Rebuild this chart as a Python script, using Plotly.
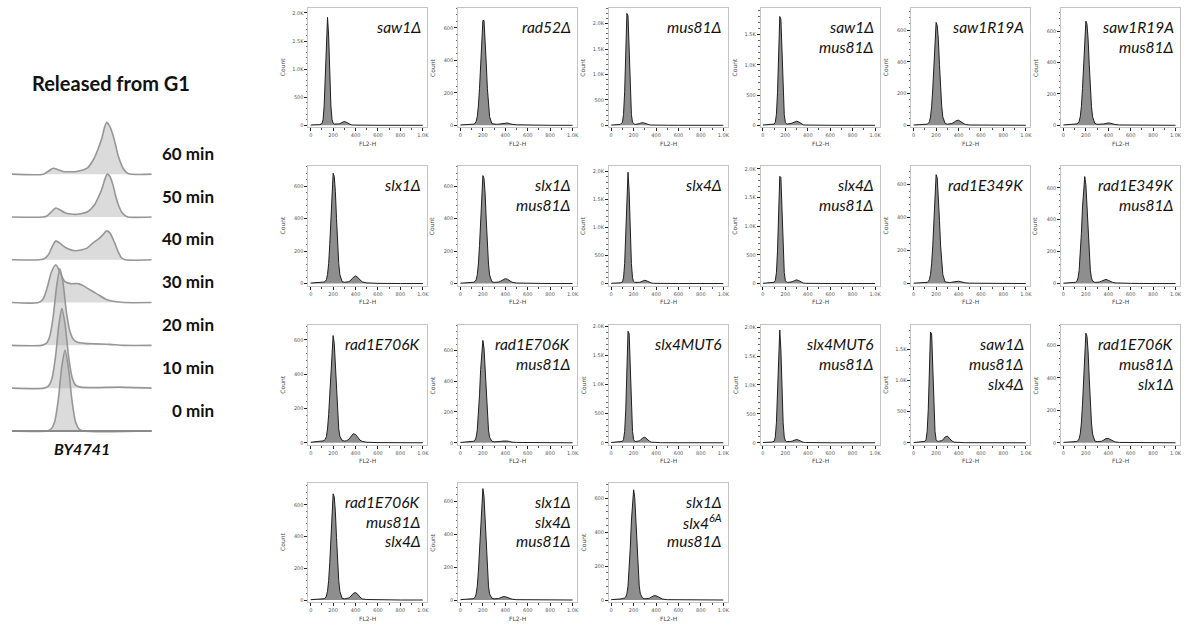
import plotly.graph_objects as go

# ---------------- data ----------------
# FL2-H positions at which histogram counts were read
FL2_GRID = [0, 40, 80, 100, 110, 120, 130, 140, 150, 160, 170, 180, 190, 200, 210, 220, 230, 240,
            250, 260, 280, 300, 320, 340, 360, 380, 400, 420, 440, 460, 500, 600, 800, 1000]

PANEL_LABELS = [
    ["saw1Δ"], ["rad52Δ"], ["mus81Δ"], ["saw1Δ", "mus81Δ"], ["saw1R19A"], ["saw1R19A", "mus81Δ"],
    ["slx1Δ"], ["slx1Δ", "mus81Δ"], ["slx4Δ"], ["slx4Δ", "mus81Δ"], ["rad1E349K"], ["rad1E349K", "mus81Δ"],
    ["rad1E706K"], ["rad1E706K", "mus81Δ"], ["slx4MUT6"], ["slx4MUT6", "mus81Δ"],
    ["saw1Δ", "mus81Δ", "slx4Δ"], ["rad1E706K", "mus81Δ", "slx1Δ"],
    ["rad1E706K", "mus81Δ", "slx4Δ"], ["slx1Δ", "slx4Δ", "mus81Δ"], ["slx1Δ", "slx4<sup>6A</sup>", "mus81Δ"],
]

COUNTS_SAW1 = [5,8,12,30,95,345,890,1590,1920,1590,890,345,105,38,22,20,20,22,25,30,52,68,52,25,8,4,3,2,2,1,1,0,0,0]
COUNTS_RAD52 = [2,3,5,6,6,7,12,24,54,119,228,383,543,646,646,543,383,228,119,53,10,6,6,7,9,13,15,14,10,6,3,1,0,0]
COUNTS_MUS81 = [5,8,15,60,215,660,1430,2200,2150,1430,660,215,58,25,18,18,20,26,33,42,52,40,22,10,5,3,2,2,1,1,1,0,0,0]
COUNTS_SAW1_MUS81 = [5,8,12,20,50,180,540,1170,1800,1760,1170,540,175,48,25,22,22,25,30,36,55,68,55,25,8,4,3,2,2,1,1,0,0,0]
COUNTS_SAW1R19A = [2,3,5,6,6,7,12,22,52,117,229,383,540,650,630,540,383,229,117,52,12,7,7,11,19,29,32,24,12,5,2,1,0,0]
COUNTS_SAW1R19A_MUS81 = [2,3,6,8,8,9,14,25,54,120,235,390,550,665,645,550,390,235,120,54,12,6,6,7,9,12,15,13,9,5,2,1,0,0]
COUNTS_SLX1 = [3,4,6,8,8,9,14,24,55,123,241,401,566,680,660,566,401,241,123,55,12,8,8,11,22,38,46,38,22,10,4,1,0,0]
COUNTS_SLX1_MUS81 = [2,3,5,7,7,8,13,23,53,120,235,392,553,665,648,553,392,235,120,53,11,7,7,9,15,24,30,26,17,8,3,1,0,0]
COUNTS_SLX4 = [4,7,12,28,100,355,915,1635,1980,1635,915,355,102,33,20,18,18,19,22,26,44,58,44,22,8,4,3,2,2,1,1,0,0,0]
COUNTS_SLX4_MUS81 = [4,7,12,22,52,188,570,1230,1870,1850,1230,570,188,50,24,20,20,22,25,30,50,64,50,24,8,4,3,2,2,1,1,0,0,0]
COUNTS_RAD1E349K = [2,3,5,6,6,7,12,24,54,119,228,383,543,660,640,543,383,228,119,53,10,6,6,8,11,14,14,11,7,4,2,1,0,0]
COUNTS_RAD1E349K_MUS81 = [2,3,5,6,8,14,34,82,173,313,480,620,670,620,480,313,173,82,35,15,7,7,9,15,23,26,20,12,7,4,2,1,0,0]
COUNTS_RAD1E706K = [3,5,8,10,11,14,20,36,80,164,294,450,580,625,580,450,294,164,80,38,14,10,12,20,38,53,48,30,15,8,3,1,0,0]
COUNTS_RAD1E706K_MUS81 = [2,3,5,7,8,10,16,36,82,172,311,476,615,665,615,476,311,172,82,35,10,6,6,7,9,11,12,11,8,4,2,1,0,0]
COUNTS_SLX4MUT6 = [4,7,12,24,56,195,580,1250,1920,1880,1250,580,195,55,25,22,22,25,32,42,82,96,60,28,10,5,3,2,2,1,1,0,0,0]
COUNTS_SLX4MUT6_MUS81 = [4,7,12,26,96,345,900,1610,1950,1610,900,345,98,32,20,18,18,20,24,28,44,58,44,22,8,4,3,2,2,1,1,0,0,0]
COUNTS_SAW1_MUS81_SLX4 = [4,7,12,22,52,180,535,1160,1780,1750,1160,535,180,50,25,22,23,26,35,45,92,108,66,30,10,5,3,2,2,1,1,0,0,0]
COUNTS_RAD1E706K_MUS81_SLX1 = [2,3,5,7,7,8,13,25,55,122,238,398,560,675,655,560,398,238,122,54,11,7,7,9,17,26,27,20,11,5,2,1,0,0]
COUNTS_RAD1E706K_MUS81_SLX4 = [2,3,5,7,7,8,13,25,55,122,236,395,556,670,650,556,395,236,122,54,11,7,8,13,25,42,47,36,18,7,3,1,0,0]
COUNTS_SLX1_SLX4_MUS81 = [2,3,5,7,8,10,16,37,84,175,316,484,626,675,626,484,316,175,84,37,11,7,7,9,15,20,20,15,9,5,2,1,0,0]
COUNTS_SLX1_SLX46A_MUS81 = [2,3,6,9,10,12,18,38,82,170,306,466,603,650,603,466,306,170,82,36,11,7,7,10,18,25,25,18,10,5,2,1,0,0]

PANEL_COUNTS = [
    COUNTS_SAW1, COUNTS_RAD52, COUNTS_MUS81, COUNTS_SAW1_MUS81, COUNTS_SAW1R19A, COUNTS_SAW1R19A_MUS81,
    COUNTS_SLX1, COUNTS_SLX1_MUS81, COUNTS_SLX4, COUNTS_SLX4_MUS81, COUNTS_RAD1E349K, COUNTS_RAD1E349K_MUS81,
    COUNTS_RAD1E706K, COUNTS_RAD1E706K_MUS81, COUNTS_SLX4MUT6, COUNTS_SLX4MUT6_MUS81,
    COUNTS_SAW1_MUS81_SLX4, COUNTS_RAD1E706K_MUS81_SLX1,
    COUNTS_RAD1E706K_MUS81_SLX4, COUNTS_SLX1_SLX4_MUS81, COUNTS_SLX1_SLX46A_MUS81,
]
# top of each Count axis
COUNT_AXIS_MAX = [2088, 723, 2308, 1941, 741, 749,
                  723, 723, 2088, 2046, 711, 735,
                  684, 762, 2020, 2030, 1886, 723,
                  740, 711, 692]

X_TICKS = [0, 200, 400, 600, 800, 1000]
X_TICK_TEXT = ["0", "200", "400", "600", "800", "1.0K"]
Y_TICKS_K = [0, 500, 1000, 1500, 2000]
Y_TICK_TEXT_K = ["0", "500", "1.0K", "1.5K", "2.0K"]
Y_TICKS_H = [0, 200, 400, 600]
Y_TICK_TEXT_H = ["0", "200", "400", "600"]

# Left: BY4741 released from G1 (DNA content, relative height)
RIDGE_LABELS = ["60 min", "50 min", "40 min", "30 min", "20 min", "10 min", "0 min"]
RIDGE_X_60 = [0, 224, 260, 295, 330, 366, 420, 462, 500, 538, 588, 615, 643, 660, 677, 700, 723, 740, 759, 795, 830, 1000]
RIDGE_H_60 = [0, 0, 3, 6, 4.5, 2.7, 2.5, 2.7, 4, 6, 16, 25, 36, 46, 52, 48, 39, 30, 19, 6, 0.7, 0]
RIDGE_X_50 = [0, 220, 250, 280, 314, 345, 379, 420, 467, 500, 538, 588, 615, 643, 665, 681, 700, 723, 740, 759, 785, 807, 830, 1000]
RIDGE_H_50 = [0, 0, 1, 5, 9, 7, 4.3, 3, 2.7, 3.5, 5, 11.7, 19, 28, 38, 43, 41, 32, 22, 13, 5, 1.7, 0, 0]
RIDGE_X_40 = [0, 200, 230, 260, 290, 314, 340, 366, 400, 450, 500, 540, 580, 620, 650, 677, 700, 735, 760, 783, 810, 1000]
RIDGE_H_40 = [0, 0, 1, 5, 14, 19, 17, 14, 11, 9, 10, 12, 17, 21, 25, 29, 27, 17, 8, 2, 0, 0]
RIDGE_X_30 = [0, 190, 220, 250, 283, 314, 345, 379, 420, 474, 510, 545, 605, 676, 735, 800, 1000]
RIDGE_H_30 = [0, 0, 3, 14, 31, 38, 30, 21, 19, 19, 17, 14, 9, 3, 1, 0, 0]
RIDGE_X_20 = [0, 210, 245, 270, 295, 320, 343, 365, 390, 415, 440, 470, 520, 600, 700, 800, 1000]
RIDGE_H_20 = [0, 0, 2, 9, 29, 60, 77, 63, 33, 14, 6, 3, 2, 1.5, 1, 0, 0]
RIDGE_X_10 = [0, 230, 260, 285, 310, 335, 357, 380, 405, 430, 455, 490, 600, 760, 1000]
RIDGE_H_10 = [0, 0, 2, 9, 30, 63, 80, 64, 32, 11, 3, 1, 0.5, 1, 0]
RIDGE_X_0 = [0, 250, 280, 305, 330, 355, 379, 405, 430, 455, 480, 510, 1000]
RIDGE_H_0 = [0, 0, 2, 9, 30, 63, 81, 62, 30, 9, 2, 0, 0]

RIDGE_X = [RIDGE_X_60, RIDGE_X_50, RIDGE_X_40, RIDGE_X_30, RIDGE_X_20, RIDGE_X_10, RIDGE_X_0]
RIDGE_H = [RIDGE_H_60, RIDGE_H_50, RIDGE_H_40, RIDGE_H_30, RIDGE_H_20, RIDGE_H_10, RIDGE_H_0]

# ---------------- layout helpers ----------------
W, H = 1188, 628
def fx(px):
    return px / W
def fy(py):
    return 1 - py / H

COL_LEFT = [309, 459, 610, 762, 913, 1063]
ROW_TOP = [6, 165, 325, 483]
PW, PH = 119, 120

LABEL_FONT = "Lato, 'Open Sans', sans-serif"
TICK_FONT = dict(family="DejaVu Sans, sans-serif", size=5, color="#555")

fig = go.Figure()
annotations = []
shapes = []
layout_axes = {}

# ---------------- left ridge plot ----------------
R_TOP, R_BOT = 100, 440
RIDGE_BASE_PX = [431 - 43 * (6 - k) for k in range(7)]  # 60 min first
layout_axes["xaxis"] = dict(domain=[fx(12), fx(152)], range=[0, 1000], visible=False, fixedrange=True)
layout_axes["yaxis"] = dict(domain=[fy(R_BOT), fy(R_TOP)], range=[0, R_BOT - R_TOP], visible=False,
                            anchor="x", fixedrange=True)
for k in range(7):
    base = R_BOT - RIDGE_BASE_PX[k]
    fig.add_trace(go.Scatter(
        x=RIDGE_X[k], y=[base + h for h in RIDGE_H[k]], mode="lines",
        line=dict(color="rgba(145,145,145,0.95)", width=1.6, shape="spline", smoothing=0.7),
        fill="toself", fillcolor="rgba(170,170,170,0.42)",
        xaxis="x", yaxis="y", hoverinfo="skip", showlegend=False))
    annotations.append(dict(text="<b>%s</b>" % RIDGE_LABELS[k], x=fx(216), y=fy(RIDGE_BASE_PX[k] - 21),
                            xref="paper", yref="paper", xanchor="right", yanchor="middle", showarrow=False,
                            font=dict(family=LABEL_FONT, size=17, color="#111")))
shapes.append(dict(type="line", xref="paper", yref="paper", x0=fx(12), x1=fx(152),
                   y0=fy(431), y1=fy(431), line=dict(color="#8a8a8a", width=2)))
annotations.append(dict(text="<b>Released from G1</b>", x=fx(111), y=fy(81), xref="paper", yref="paper",
                        xanchor="center", yanchor="middle", showarrow=False,
                        font=dict(family=LABEL_FONT, size=20, color="#111")))
annotations.append(dict(text="<b><i>BY4741</i></b>", x=fx(82), y=fy(449), xref="paper", yref="paper",
                        xanchor="center", yanchor="middle", showarrow=False,
                        font=dict(family=LABEL_FONT, size=16, color="#111")))

# ---------------- histogram grid ----------------
for i, counts in enumerate(PANEL_COUNTS):
    r, c = divmod(i, 6)
    n = i + 2
    L, T = COL_LEFT[c], ROW_TOP[r]
    ymax = COUNT_AXIS_MAX[i]
    kscale = ymax > 1000
    layout_axes["xaxis%d" % n] = dict(
        domain=[fx(L), fx(L + PW)], range=[-20, 1040], anchor="y%d" % n,
        tickmode="array", tickvals=X_TICKS, ticktext=X_TICK_TEXT,
        ticks="outside", ticklen=3, tickwidth=1, tickcolor="#222", tickfont=TICK_FONT,
        showline=True, linecolor="#c4c4c4", linewidth=1, mirror=True,
        showgrid=False, zeroline=False, fixedrange=True,
        minor=dict(tickmode="linear", tick0=0, dtick=100, ticks="outside", ticklen=2, tickcolor="#444"))
    layout_axes["yaxis%d" % n] = dict(
        domain=[fy(T + PH), fy(T)], range=[-0.018 * ymax, ymax], anchor="x%d" % n,
        tickmode="array",
        tickvals=Y_TICKS_K if kscale else Y_TICKS_H,
        ticktext=Y_TICK_TEXT_K if kscale else Y_TICK_TEXT_H,
        ticks="outside", ticklen=3, tickwidth=1, tickcolor="#222", tickfont=TICK_FONT,
        showline=True, linecolor="#c4c4c4", linewidth=1, mirror=True,
        showgrid=False, zeroline=False, fixedrange=True,
        minor=dict(tickmode="linear", tick0=0, dtick=100 if kscale else 40,
                   ticks="outside", ticklen=1.5, tickcolor="#666"))
    fig.add_trace(go.Scatter(
        x=FL2_GRID, y=counts, mode="lines",
        line=dict(color="#1e1e1e", width=1), fill="tozeroy", fillcolor="#8e8e8e",
        xaxis="x%d" % n, yaxis="y%d" % n, hoverinfo="skip", showlegend=False))
    annotations.append(dict(text="Count", x=fx(L - 26), y=fy(T + PH / 2), xref="paper", yref="paper",
                            textangle=-90, xanchor="center", yanchor="middle", showarrow=False,
                            font=dict(family="DejaVu Sans, sans-serif", size=6, color="#444")))
    annotations.append(dict(text="FL2-H", x=fx(L + PW / 2), y=fy(T + PH + 16), xref="paper", yref="paper",
                            xanchor="center", yanchor="middle", showarrow=False,
                            font=dict(family="DejaVu Sans, sans-serif", size=6, color="#444")))
    for j, line in enumerate(PANEL_LABELS[i]):
        annotations.append(dict(text="<i>%s</i>" % line, x=fx(L + PW - 4), y=fy(T + 19 + 20 * j),
                                xref="paper", yref="paper", xanchor="right", yanchor="middle",
                                showarrow=False, font=dict(family=LABEL_FONT, size=15.5, color="#111")))

fig.update_layout(
    width=W, height=H, margin=dict(l=0, r=0, t=0, b=0),
    paper_bgcolor="white", plot_bgcolor="white", showlegend=False,
    annotations=annotations, shapes=shapes, **layout_axes)

fig.write_html("out.html", config={"displayModeBar": False})
